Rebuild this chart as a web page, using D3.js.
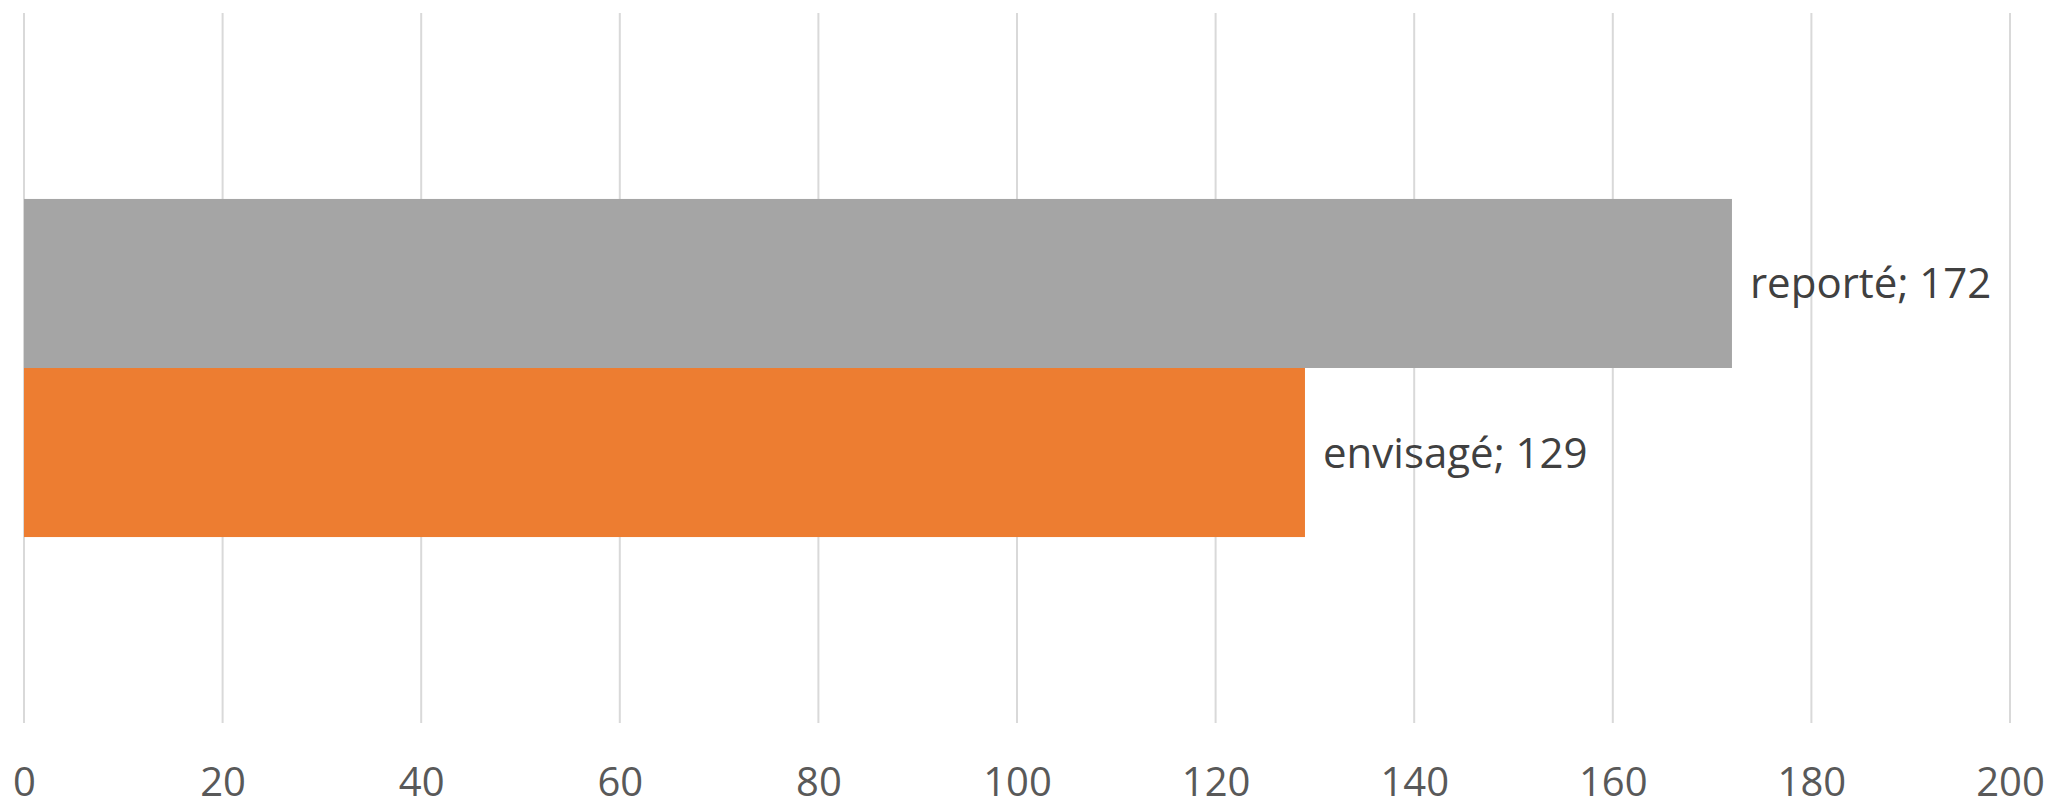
<!DOCTYPE html>
<html><head><meta charset="utf-8">
<script src="https://cdn.jsdelivr.net/npm/d3@7"></script>
<style>html,body{margin:0;padding:0;background:#fff;}svg{display:block;}</style>
</head><body>
<svg id="chart" width="2051" height="807"></svg>
<script>
const categories = ["total"];
const seriesNames = ["reporté", "envisagé"];
const seriesValues = [172, 129];
const seriesColors = ["#A5A5A5", "#ED7D31"];
const tickValues = [0, 20, 40, 60, 80, 100, 120, 140, 160, 180, 200];

(function () {
const svg = d3.select("#chart");
const mLeft = 24, mRight = 2010, mTop = 13, mBottom = 723;
const font = "'Open Sans', sans-serif";

const x = d3.scaleLinear().domain([0, 200]).range([mLeft, mRight]);
const y = d3.scaleBand().domain(categories).range([mTop, mBottom]).paddingOuter(0.55).paddingInner(0);
const ys = d3.scaleBand().domain(seriesNames).range([0, y.bandwidth()]);

// grid lines
svg.append("g").selectAll("line").data(tickValues).join("line")
  .attr("x1", d => x(d)).attr("x2", d => x(d))
  .attr("y1", mTop).attr("y2", mBottom)
  .attr("stroke", "#D9D9D9").attr("stroke-width", 2);

// axis labels
const axis = d3.axisBottom(x).tickValues(tickValues).tickSize(0).tickPadding(0);
const ax = svg.append("g").attr("transform", `translate(0,${mBottom})`).call(axis);
ax.select(".domain").remove();
ax.selectAll("text").attr("font-family", font).attr("font-size", 40)
  .attr("fill", "#595959").attr("dy", null).attr("y", 73);

// bars
const data = seriesNames.map((s, i) => ({name: s, value: seriesValues[i], color: seriesColors[i]}));
const g = svg.append("g").attr("transform", `translate(0,${y(categories[0])})`);
g.selectAll("rect").data(data).join("rect")
  .attr("x", x(0)).attr("y", d => ys(d.name))
  .attr("width", d => x(d.value) - x(0)).attr("height", ys.bandwidth())
  .attr("fill", d => d.color);

g.selectAll("text").data(data).join("text")
  .attr("x", d => x(d.value) + 18)
  .attr("y", d => ys(d.name) + ys.bandwidth() / 2 + 15)
  .attr("font-family", font).attr("font-size", 42).attr("fill", "#404040")
  .text(d => `${d.name}; ${d.value}`);
})();
</script>
</body></html>
